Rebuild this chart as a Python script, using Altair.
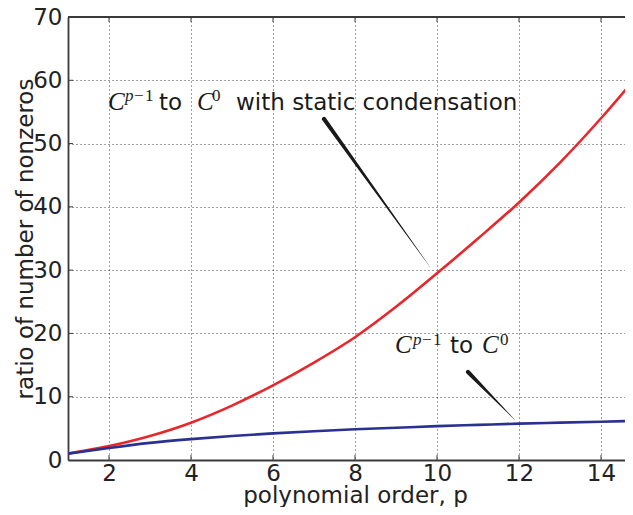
import altair as alt
import pandas as pd

# ---- data ----
p_order = [1, 2, 3, 4, 5, 6, 7, 8, 9, 10, 11, 12, 13, 14, 15]
ratio_static = [1.0, 2.2, 3.8, 5.9, 8.6, 11.8, 15.4, 19.4, 24.2, 29.5, 35.0, 40.7, 47.0, 54.0, 61.6]
ratio_plain = [1.0, 1.9, 2.7, 3.3, 3.8, 4.2, 4.55, 4.85, 5.1, 5.35, 5.55, 5.75, 5.9, 6.05, 6.2]

x_ticks = [2, 4, 6, 8, 10, 12, 14]
y_ticks = [0, 10, 20, 30, 40, 50, 60, 70]
X_MIN, X_MAX = 1, 14.585
Y_MIN, Y_MAX = 0, 70

# annotation text pieces (data coordinates)
ann_text = ["C", "p", "−", "1", "to", "C", "0", "with static condensation",
            "C", "p", "−", "1", "to", "C", "0"]
ann_kind = ["it", "it", "rm", "rm", "sans", "it", "rm", "sans",
            "it", "it", "rm", "rm", "sans", "it", "rm"]
ann_size = [25, 17, 17, 17, 23, 25, 17, 23,
            25, 17, 17, 17, 23, 25, 17]
ann_x = [1.976, 2.390, 2.610, 2.878, 3.220, 4.146, 4.512, 5.098,
         8.976, 9.415, 9.634, 9.902, 10.317, 11.098, 11.537]
ann_y = [55.30, 56.65, 56.65, 56.65, 55.30, 55.30, 56.65, 55.30,
         16.91, 18.25, 18.25, 18.25, 16.91, 16.91, 18.25]

# wedge-shaped annotation pointers
wedge_id = ["a", "a", "b", "b"]
wedge_x = [7.244, 9.829, 10.756, 11.902]
wedge_y = [53.88, 30.50, 13.91, 6.32]
wedge_w = [4.2, 0.2, 4.2, 0.2]
wedge_ord = [0, 1, 0, 1]

# ---- tables ----
lines = pd.DataFrame({
    "x": p_order * 2,
    "y": ratio_static + ratio_plain,
    "series": ["static"] * len(p_order) + ["plain"] * len(p_order),
})
ann = pd.DataFrame({"x": ann_x, "y": ann_y, "t": ann_text, "kind": ann_kind, "s": ann_size})
wedges = pd.DataFrame({"x": wedge_x, "y": wedge_y, "w": wedge_w, "id": wedge_id, "o": wedge_ord})
xt = pd.DataFrame({"x": x_ticks})
yt = pd.DataFrame({"y": y_ticks[1:-1]})

FONT = "DejaVu Sans"
TXT = "#222222"
SPINE = "#3a3a3a"

X = alt.X("x:Q",
          scale=alt.Scale(domain=[X_MIN, X_MAX], nice=False, zero=False),
          axis=alt.Axis(values=x_ticks, title="polynomial order, p", grid=True,
                        labelPadding=2, titleX=287, titleY=42,
                        titleBaseline="alphabetic", titleAnchor="start", titleAlign="center"))
Y = alt.Y("y:Q",
          scale=alt.Scale(domain=[Y_MIN, Y_MAX], nice=False),
          axis=alt.Axis(values=y_ticks, title="ratio of number of nonzeros", grid=True,
                        labelPadding=6, titleX=-36, titleY=221.5, titleAngle=270,
                        titleBaseline="alphabetic", titleAlign="center"))

line_layer = alt.Chart(lines).mark_line(strokeWidth=2.6, clip=True, interpolate="monotone").encode(
    x=X, y=Y,
    color=alt.Color("series:N", scale=alt.Scale(domain=["static", "plain"],
                                                 range=["#e8262b", "#2b3191"]), legend=None),
    detail="series:N",
)

top_spine = alt.Chart(lines).mark_rule(color=SPINE, strokeWidth=1.8).encode(
    y=alt.datum(Y_MAX)
)

# inward tick marks (matplotlib style)
top_ticks = alt.Chart(xt).mark_rule(color=SPINE, strokeWidth=1).encode(
    x=X, y=alt.value(0), y2=alt.value(5))
bottom_ticks = alt.Chart(xt).mark_rule(color=SPINE, strokeWidth=1).encode(
    x=X, y=alt.value(443), y2=alt.value(438))
left_ticks = alt.Chart(yt).mark_rule(color=SPINE, strokeWidth=1).encode(
    y=Y, x=alt.value(0), x2=alt.value(5))

wedge_layer = alt.Chart(wedges).mark_trail(color="#1a1a1a").encode(
    x=X, y=Y,
    size=alt.Size("w:Q", scale=None, legend=None),
    detail="id:N",
    order="o:Q",
)

def text_layer(kind, font, style):
    kw = dict(font=font, align="left", baseline="alphabetic", color="#1a1a1a")
    if style:
        kw["fontStyle"] = style
    return alt.Chart(ann).transform_filter(alt.datum.kind == kind).mark_text(**kw).encode(
        x=X, y=Y, text="t:N", size=alt.Size("s:Q", scale=None, legend=None)
    )

chart = alt.layer(
    line_layer,
    wedge_layer,
    text_layer("sans", FONT, None),
    text_layer("it", "Liberation Serif", "italic"),
    text_layer("rm", "Liberation Serif", None),
    top_spine,
    top_ticks,
    bottom_ticks,
    left_ticks,
).properties(
    width=557, height=443,
    autosize=alt.AutoSizeParams(type="none"),
    padding={"left": 60, "top": 9, "right": 0, "bottom": 47},
    background="white",
).configure_view(
    stroke=None
).configure_axis(
    domainColor=SPINE, domainWidth=1.8,
    ticks=False,
    gridColor="#222222", gridDash=[1, 3], gridWidth=1, gridOpacity=0.85,
    labelFont=FONT, labelFontSize=23, labelColor=TXT,
    titleFont=FONT, titleFontSize=23, titleColor=TXT, titleFontWeight="normal",
    labelBound=False, labelFlush=False, labelOverlap=False,
)

chart.save("out.html", embed_options={"renderer": "svg", "actions": False})
